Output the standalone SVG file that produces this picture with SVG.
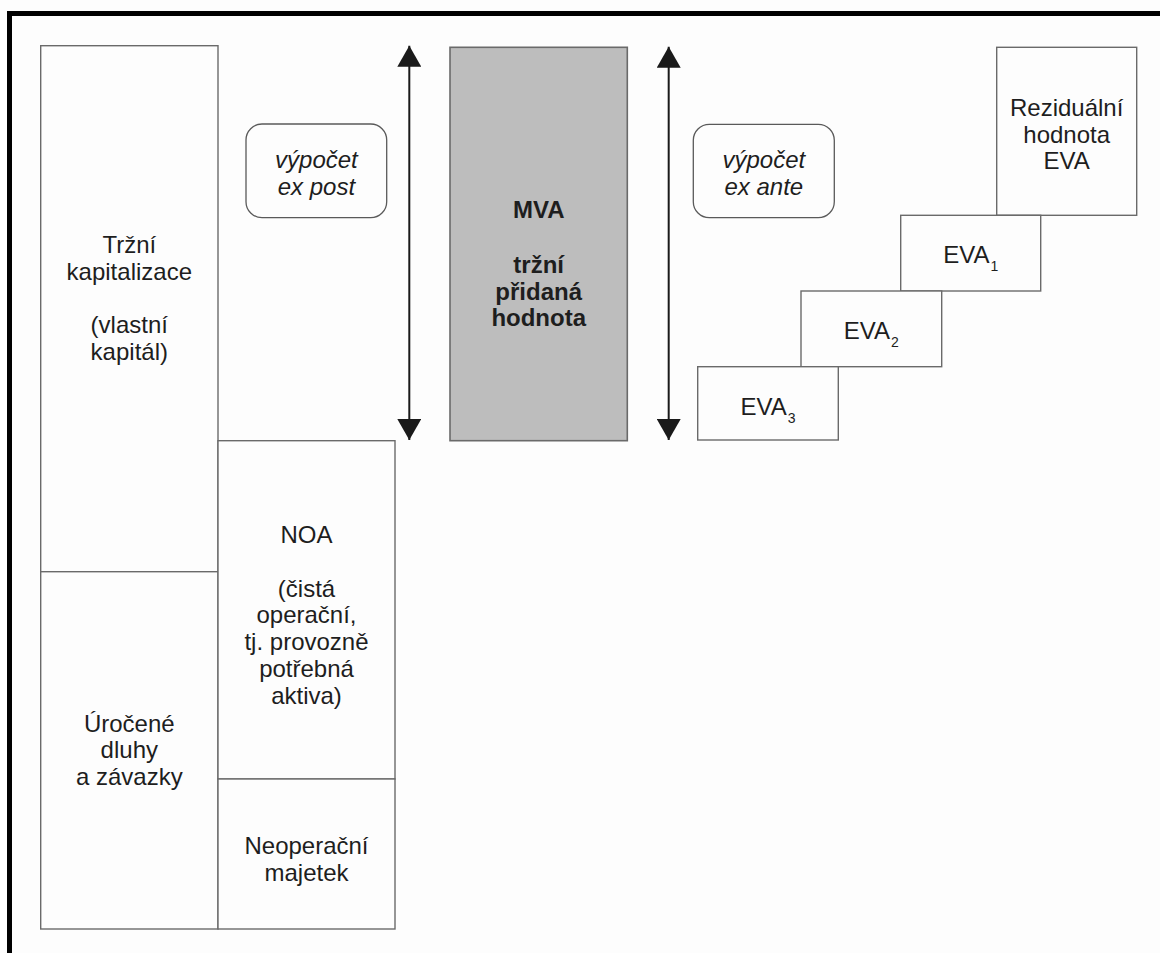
<svg xmlns="http://www.w3.org/2000/svg" width="1160" height="953" viewBox="0 0 1160 953">
  <defs>
    <marker id="head" viewBox="0 0 21 24" refX="21" refY="12" markerWidth="21" markerHeight="24" markerUnits="userSpaceOnUse" orient="auto-start-reverse">
      <polygon points="0,0 21,12 0,24" fill="#1a1a1a"/>
    </marker>
    <style>
      .box { fill: #fdfdfd; stroke: #6a6a6a; stroke-width: 1.4; }
      .mva { fill: #bdbdbd; stroke: #6a6a6a; stroke-width: 1.6; }
      .note { fill: #fdfdfd; stroke: #5a5a5a; stroke-width: 1.3; }
      .frame { stroke: #000; stroke-width: 5; fill: none; }
      .arrow { stroke: #1a1a1a; stroke-width: 2; fill: none; }
      text { font-family: "Liberation Sans", Arial, sans-serif; font-size: 24px; fill: #1e1e1e; text-anchor: middle; }
      .it { font-style: italic; }
      .b { font-weight: bold; }
      .sub { font-size: 14px; }
    </style>
  </defs>

  <rect width="1160" height="953" fill="#fdfdfd"/>

  <!-- frame edges -->
  <path class="frame" d="M9.5,953 V13.5 H1160"/>

  <!-- left column: market capitalisation and interest-bearing debt -->
  <g id="equity">
    <rect class="box" x="40.7" y="45.7" width="177.3" height="526"/>
    <text x="129.3" y="253">Tržní</text>
    <text x="129.3" y="279.7">kapitalizace</text>
    <text x="129.3" y="333">(vlastní</text>
    <text x="129.3" y="359.7">kapitál)</text>
  </g>
  <g id="debt">
    <rect class="box" x="40.7" y="571.7" width="177.3" height="357.3"/>
    <text x="129.3" y="731.7">Úročené</text>
    <text x="129.3" y="758.4">dluhy</text>
    <text x="129.3" y="785.1">a závazky</text>
  </g>

  <!-- asset column -->
  <g id="noa">
    <rect class="box" x="218" y="440.7" width="177" height="338.3"/>
    <text x="306.5" y="543.3">NOA</text>
    <text x="306.5" y="596.7">(čistá</text>
    <text x="306.5" y="623.4">operační,</text>
    <text x="306.5" y="650.1">tj. provozně</text>
    <text x="306.5" y="676.8">potřebná</text>
    <text x="306.5" y="703.5">aktiva)</text>
  </g>
  <g id="non-operating">
    <rect class="box" x="218" y="779" width="177" height="150"/>
    <text x="306.5" y="854">Neoperační</text>
    <text x="306.5" y="880.7">majetek</text>
  </g>

  <!-- calculation notes -->
  <g id="ex-post">
    <rect class="note" x="246" y="124" width="140.7" height="93.7" rx="16"/>
    <text class="it" x="316.4" y="168.3">výpočet</text>
    <text class="it" x="316.4" y="195">ex post</text>
  </g>
  <g id="ex-ante">
    <rect class="note" x="693.3" y="124.3" width="141" height="93.4" rx="16"/>
    <text class="it" x="763.8" y="168.3">výpočet</text>
    <text class="it" x="763.8" y="195">ex ante</text>
  </g>

  <!-- market value added -->
  <g id="mva">
    <rect class="mva" x="450" y="47.3" width="177.3" height="393.4"/>
    <text class="b" x="538.7" y="218.3">MVA</text>
    <text class="b" x="538.7" y="273">tržní</text>
    <text class="b" x="538.7" y="299.7">přidaná</text>
    <text class="b" x="538.7" y="326.4">hodnota</text>
  </g>

  <!-- EVA staircase -->
  <g id="residual">
    <rect class="box" x="996.7" y="47.3" width="140" height="168"/>
    <text x="1066.7" y="116">Reziduální</text>
    <text x="1066.7" y="142.7">hodnota</text>
    <text x="1066.7" y="169.4">EVA</text>
  </g>
  <g id="eva1">
    <rect class="box" x="900.7" y="215.3" width="140" height="75.7"/>
    <text x="970.7" y="262.7">EVA<tspan class="sub" dx="1" dy="8">1</tspan></text>
  </g>
  <g id="eva2">
    <rect class="box" x="801" y="291" width="140.7" height="75.7"/>
    <text x="871.3" y="339.3">EVA<tspan class="sub" dx="1" dy="8">2</tspan></text>
  </g>
  <g id="eva3">
    <rect class="box" x="697.7" y="366.7" width="140.6" height="73.3"/>
    <text x="768" y="415">EVA<tspan class="sub" dx="1" dy="8">3</tspan></text>
  </g>

  <!-- double-headed span arrows -->
  <g id="connectors">
    <line class="arrow" x1="409.3" y1="45.7" x2="409.3" y2="440" marker-start="url(#head)" marker-end="url(#head)"/>
    <line class="arrow" x1="668.7" y1="46.7" x2="668.7" y2="440" marker-start="url(#head)" marker-end="url(#head)"/>
  </g>
</svg>
